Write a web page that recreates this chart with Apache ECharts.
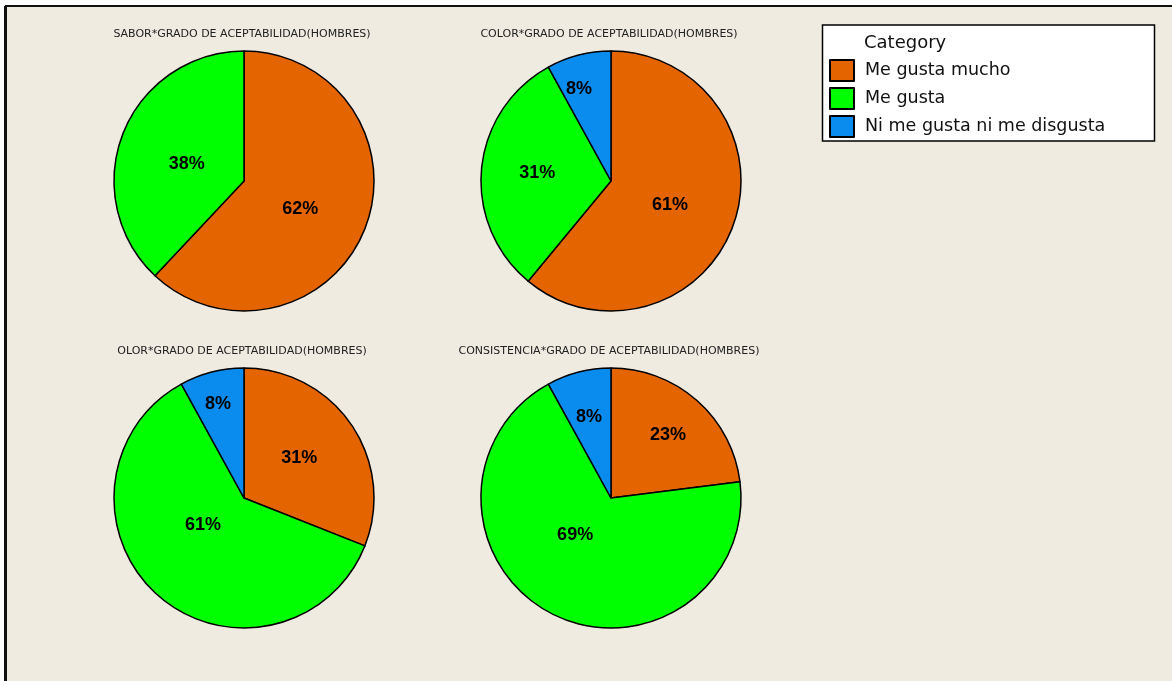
<!DOCTYPE html>
<html>
<head>
<meta charset="utf-8">
<script src="https://cdn.jsdelivr.net/npm/echarts@6/dist/echarts.min.js"></script>
<style>
  html, body { margin: 0; padding: 0; background: #fff; }
  #chart { width: 1172px; height: 681px; }
</style>
</head>
<body>
<div id="chart"></div>
<script>
// Categories of acceptability and the share (%) of each per attribute
const categories = ['Me gusta mucho', 'Me gusta', 'Ni me gusta ni me disgusta'];
const panelTitles = [
  'SABOR*GRADO DE ACEPTABILIDAD(HOMBRES)',
  'COLOR*GRADO DE ACEPTABILIDAD(HOMBRES)',
  'OLOR*GRADO DE ACEPTABILIDAD(HOMBRES)',
  'CONSISTENCIA*GRADO DE ACEPTABILIDAD(HOMBRES)'
];
const sabor = [62, 38];
const colorAttr = [61, 31, 8];
const olor = [31, 61, 8];
const consistencia = [23, 69, 8];
const panels = [sabor, colorAttr, olor, consistencia];

// Styling
const sliceColors = ['#E46500', '#00FF00', '#0A8CEF'];
const centers = [[244, 181], [611, 181], [244, 498], [611, 498]];
const pieRadius = 130;
// per-slice nudges of the percentage labels
const labelNudge = [
  [[-7, 3], [6, 8]],
  [[-5, 1], [-6, -2], [-15, -26]],
  [[-1, -2], [4, -24], [-9, -28]],
  [[12, -12], [-5, -24], [-5, -15]]
];

const series = panels.map((vals, p) => ({
  type: 'pie',
  center: centers[p],
  radius: [0, pieRadius],
  startAngle: 90,
  clockwise: true,
  silent: true,
  avoidLabelOverlap: false,
  itemStyle: { borderColor: '#000', borderWidth: 1.5 },
  label: {
    show: true,
    position: 'inside',
    formatter: '{c}%',
    color: '#000',
    fontFamily: 'Liberation Sans',
    fontWeight: 'bold',
    fontSize: 18
  },
  labelLine: { show: false },
  emphasis: { disabled: true },
  data: vals.map((v, i) => ({
    name: categories[i],
    value: v,
    itemStyle: { color: sliceColors[i] },
    label: { offset: labelNudge[p][i] }
  }))
}));

const graphic = [
  {
    type: 'rect', z: -10,
    shape: { x: 6, y: 6, width: 1220, height: 720 },
    style: { fill: '#EFEBE1', stroke: '#111', lineWidth: 2 }
  },
  {
    type: 'line', z: -9,
    shape: { x1: 5, y1: 6, x2: 5, y2: 690 },
    style: { stroke: '#111', lineWidth: 2 }
  },
  {
    type: 'rect', z: 0,
    shape: { x: 822.5, y: 25, width: 332, height: 116 },
    style: { fill: '#fff', stroke: '#000', lineWidth: 1.5 }
  },
  {
    type: 'text', z: 1, x: 864, y: 43,
    style: {
      text: 'Category', fill: '#111', font: '18px "DejaVu Sans"',
      textAlign: 'left', textVerticalAlign: 'middle'
    }
  }
];
panelTitles.forEach((t, p) => {
  graphic.push({
    type: 'text', z: 1,
    x: centers[p][0] - 2, y: centers[p][1] - 147,
    style: {
      text: t, fill: '#222', font: '11px "DejaVu Sans"',
      textAlign: 'center', textVerticalAlign: 'middle'
    }
  });
});

const chart = echarts.init(document.getElementById('chart'), null, { renderer: 'canvas' });
chart.setOption({
  animation: false,
  backgroundColor: '#fff',
  legend: {
    data: categories,
    orient: 'vertical',
    left: 829,
    top: 59,
    padding: 0,
    itemWidth: 24,
    itemHeight: 21,
    itemGap: 5,
    icon: 'rect',
    selectedMode: false,
    textStyle: {
      fontFamily: 'DejaVu Sans', fontSize: 17.5, lineHeight: 21,
      color: '#111', padding: [0, 0, 0, 6]
    }
  },
  graphic: graphic,
  series: series
});
</script>
</body>
</html>
